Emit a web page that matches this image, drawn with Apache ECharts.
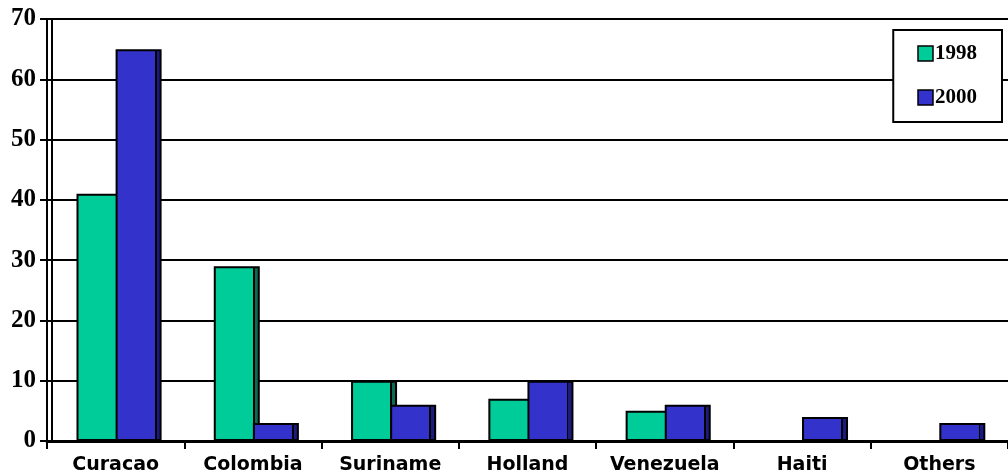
<!DOCTYPE html>
<html><head><meta charset="utf-8">
<script src="https://cdn.jsdelivr.net/npm/echarts@6/dist/echarts.min.js"></script>
<style>html,body{margin:0;padding:0;background:#fff}#c{width:1008px;height:476px}</style>
</head><body><div id="c"></div>
<script>
const categories = ['Curacao','Colombia','Suriname','Holland','Venezuela','Haiti','Others'];
const values1998 = [41, 29, 10, 7, 5, null, null];
const values2000 = [65, 3, 6, 10, 6, 4, 3];
const seriesNames = ['1998','2000'];
const yTicks = {min:0, max:70, interval:10};

function sideFill(main, dark){
  return {type:'linear', x:0, y:0, x2:1, y2:0, colorStops:[
    {offset:0, color:main},{offset:0.855, color:main},
    {offset:0.855, color:'#000'},{offset:0.89, color:'#000'},
    {offset:0.89, color:dark},{offset:1, color:dark}]};
}
const chart = echarts.init(document.getElementById('c'));
chart.setOption({
  animation:false,
  backgroundColor:'#fff',
  grid:{left:47, right:-5, top:19, bottom:35, containLabel:false},
  legend:{
    orient:'vertical', right:6, top:30,
    backgroundColor:'#fff', borderColor:'#000', borderWidth:2, borderRadius:0,
    padding:[13,25,14,24], itemGap:23, itemWidth:15, itemHeight:15,
    textStyle:{fontFamily:'Liberation Serif', fontWeight:'bold', fontSize:21, color:'#000', padding:[0,0,0,-3]},
    data:[
      {name:'1998', icon:'rect', itemStyle:{color:'#00CC99', borderColor:'#000', borderWidth:1.5}},
      {name:'2000', icon:'rect', itemStyle:{color:'#3333CC', borderColor:'#000', borderWidth:1.5}}
    ]
  },
  xAxis:{
    type:'category', data:categories,
    axisLine:{lineStyle:{color:'#000', width:3}},
    axisTick:{show:true, interval:0, length:8, inside:false, lineStyle:{color:'#000', width:2}},
    axisLabel:{interval:0, fontFamily:'DejaVu Sans', fontWeight:'bold', fontSize:19, color:'#000', margin:15},
    splitLine:{show:false}
  },
  yAxis:[{
    type:'value', min:yTicks.min, max:yTicks.max, interval:yTicks.interval,
    axisLine:{show:true, lineStyle:{color:'#000', width:2}},
    axisTick:{show:true, length:7, lineStyle:{color:'#000', width:2}},
    axisLabel:{fontFamily:'Liberation Serif', fontWeight:'bold', fontSize:25, color:'#000', margin:11},
    splitLine:{show:true, lineStyle:{color:'#000', width:2}}
  },{
    type:'value', min:yTicks.min, max:yTicks.max, interval:yTicks.interval,
    position:'left', offset:-5,
    axisLine:{show:true, lineStyle:{color:'#000', width:2}},
    axisTick:{show:false}, axisLabel:{show:false}, splitLine:{show:false}
  }],
  series:[
    {name:'spacer', type:'bar', data:categories.map(()=>null), barWidth:8, barGap:'-15%', silent:true},
    {name:seriesNames[0], type:'bar', data:values1998, barWidth:46, barGap:'-15%',
     itemStyle:{color:sideFill('#00CC99','#0B6B52'), borderColor:'#000', borderWidth:2}},
    {name:seriesNames[1], type:'bar', data:values2000, barWidth:46, barGap:'-15%',
     itemStyle:{color:sideFill('#3333CC','#1C1C80'), borderColor:'#000', borderWidth:2}}
  ]
});
</script></body></html>
